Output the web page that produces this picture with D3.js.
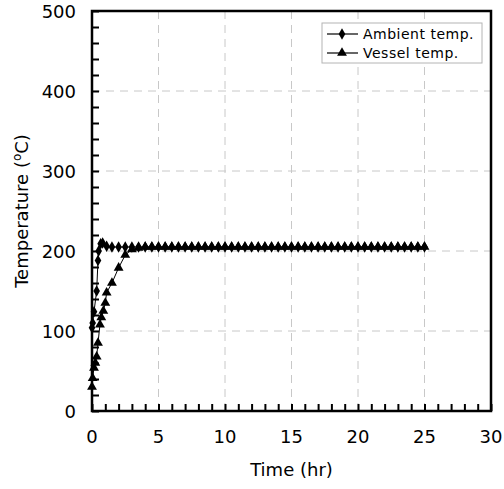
<!DOCTYPE html>
<html>
<head>
<meta charset="utf-8">
<script src="https://cdnjs.cloudflare.com/ajax/libs/d3/7.8.5/d3.min.js"></script>
<style>
  body { margin: 0; background: #fff; }
  text { font-family: "DejaVu Sans", sans-serif; fill: #000; }
</style>
</head>
<body>
<div id="chart"></div>
<script>
// values
const ambientTime = [0, 0.05, 0.15, 0.35, 0.45, 0.5, 0.65, 0.8, 1.1, 1.5, 2, 2.5, 3, 3.5, 4, 4.5, 5, 5.5, 6, 6.5, 7, 7.5, 8, 8.5, 9, 9.5, 10, 10.5, 11, 11.5, 12, 12.5, 13, 13.5, 14, 14.5, 15, 15.5, 16, 16.5, 17, 17.5, 18, 18.5, 19, 19.5, 20, 20.5, 21, 21.5, 22, 22.5, 23, 23.5, 24, 24.5, 25];
const ambientTemp = [104, 110, 124, 150, 188, 200, 209, 210, 206, 205, 205, 205, 205, 205, 205, 205, 205, 205, 205, 205, 205, 205, 205, 205, 205, 205, 205, 205, 205, 205, 205, 205, 205, 205, 205, 205, 205, 205, 205, 205, 205, 205, 205, 205, 205, 205, 205, 205, 205, 205, 205, 205, 205, 205, 205, 205, 205];

const vesselTime = [0, 0.05, 0.15, 0.25, 0.35, 0.45, 0.6, 0.7, 0.85, 1.0, 1.1, 1.5, 2, 2.5, 3, 3.5, 4, 4.5, 5, 5.5, 6, 6.5, 7, 7.5, 8, 8.5, 9, 9.5, 10, 10.5, 11, 11.5, 12, 12.5, 13, 13.5, 14, 14.5, 15, 15.5, 16, 16.5, 17, 17.5, 18, 18.5, 19, 19.5, 20, 20.5, 21, 21.5, 22, 22.5, 23, 23.5, 24, 24.5, 25];
const vesselTemp = [30, 41, 54, 60, 68, 85, 108, 117, 125, 135, 148, 160, 179, 195, 202, 204, 205, 205, 205, 205, 205, 205, 205, 205, 205, 205, 205, 205, 205, 205, 205, 205, 205, 205, 205, 205, 205, 205, 205, 205, 205, 205, 205, 205, 205, 205, 205, 205, 205, 205, 205, 205, 205, 205, 205, 205, 205, 205, 205];

const xTicks = [0, 5, 10, 15, 20, 25, 30];
const yTicks = [0, 100, 200, 300, 400, 500];
const seriesNames = ["Ambient temp.", "Vessel temp."];

const width = 504, height = 489;
const margin = {top: 11, right: 13, bottom: 78, left: 92};
const plotW = width - margin.left - margin.right;
const plotH = height - margin.top - margin.bottom;

const svg = d3.select("#chart").append("svg")
    .attr("width", width)
    .attr("height", height);

const g = svg.append("g")
    .attr("transform", `translate(${margin.left},${margin.top})`);

const x = d3.scaleLinear().domain([0, 30]).range([0, plotW]);
const y = d3.scaleLinear().domain([0, 500]).range([plotH, 0]);

// dashed grid
g.append("g").selectAll("line")
    .data(xTicks.filter(d => d > 0 && d < 30))
    .enter().append("line")
    .attr("x1", d => x(d)).attr("x2", d => x(d))
    .attr("y1", 0).attr("y2", plotH)
    .attr("stroke", "#c8c8c8")
    .attr("stroke-dasharray", "8,6");

g.append("g").selectAll("line")
    .data(yTicks.filter(d => d > 0 && d < 500))
    .enter().append("line")
    .attr("x1", 0).attr("x2", plotW)
    .attr("y1", d => y(d)).attr("y2", d => y(d))
    .attr("stroke", "#c8c8c8")
    .attr("stroke-dasharray", "8,6");

// inner minor ticks
const xAxis = d3.axisBottom(x).ticks(30).tickSize(-7).tickFormat("");
g.append("g")
    .attr("transform", `translate(0,${plotH})`)
    .call(xAxis)
    .call(a => a.select(".domain").remove())
    .selectAll("line").attr("stroke", "#000").attr("stroke-width", 2);

const yAxis = d3.axisLeft(y).ticks(25).tickSize(-7).tickFormat("");
g.append("g")
    .call(yAxis)
    .call(a => a.select(".domain").remove())
    .selectAll("line").attr("stroke", "#000").attr("stroke-width", 2);

// tick labels
g.append("g").selectAll("text")
    .data(xTicks)
    .enter().append("text")
    .attr("x", d => x(d))
    .attr("y", plotH + 32)
    .attr("text-anchor", "middle")
    .style("font-size", "18px")
    .text(d => d);

g.append("g").selectAll("text")
    .data(yTicks)
    .enter().append("text")
    .attr("x", -16)
    .attr("y", d => y(d) + 7)
    .attr("text-anchor", "end")
    .style("font-size", "18px")
    .text(d => d);

// plot frame
g.append("rect")
    .attr("width", plotW)
    .attr("height", plotH)
    .attr("fill", "none")
    .attr("stroke", "#000")
    .attr("stroke-width", 2.5);

// series
const line = d3.line().x(d => x(d[0])).y(d => y(d[1]));
const ambient = ambientTime.map((t, i) => [t, ambientTemp[i]]);
const vessel = vesselTime.map((t, i) => [t, vesselTemp[i]]);

const diamond = d3.symbol().type(d3.symbolDiamond).size(38);
const triangle = d3.symbol().type(d3.symbolTriangle).size(42);

g.append("path").datum(vessel)
    .attr("d", line).attr("fill", "none").attr("stroke", "#000").attr("stroke-width", 1);
g.append("path").datum(ambient)
    .attr("d", line).attr("fill", "none").attr("stroke", "#000").attr("stroke-width", 1);

g.append("g").selectAll("path")
    .data(vessel)
    .enter().append("path")
    .attr("transform", d => `translate(${x(d[0])},${y(d[1])})`)
    .attr("d", triangle);

g.append("g").selectAll("path")
    .data(ambient)
    .enter().append("path")
    .attr("transform", d => `translate(${x(d[0])},${y(d[1])})`)
    .attr("d", diamond);

// axis titles
svg.append("text")
    .attr("x", margin.left + plotW / 2)
    .attr("y", 476)
    .attr("text-anchor", "middle")
    .style("font-size", "18px")
    .text("Time (hr)");

const yTitle = svg.append("text")
    .attr("transform", `translate(28,${margin.top + plotH / 2}) rotate(-90)`)
    .attr("text-anchor", "middle")
    .style("font-size", "18px");
yTitle.append("tspan").text("Temperature (");
yTitle.append("tspan").attr("dy", -7).style("font-size", "12px").text("o");
yTitle.append("tspan").attr("dy", 7).text("C)");

// legend
const legend = svg.append("g").attr("transform", "translate(322,23)");
legend.append("rect")
    .attr("width", 160).attr("height", 40)
    .attr("fill", "#fff").attr("stroke", "#b4b4b4");

const markers = [diamond, triangle];
seriesNames.forEach((name, i) => {
    const row = legend.append("g").attr("transform", `translate(0,${11 + i * 19})`);
    row.append("line")
        .attr("x1", 5).attr("x2", 36)
        .attr("stroke", "#000").attr("stroke-width", 1.2);
    row.append("path")
        .attr("transform", "translate(20,0)")
        .attr("d", markers[i]);
    row.append("text")
        .attr("x", 41).attr("y", 5)
        .style("font-size", "14px")
        .style("letter-spacing", "0.5px")
        .text(name);
});
</script>
</body>
</html>
